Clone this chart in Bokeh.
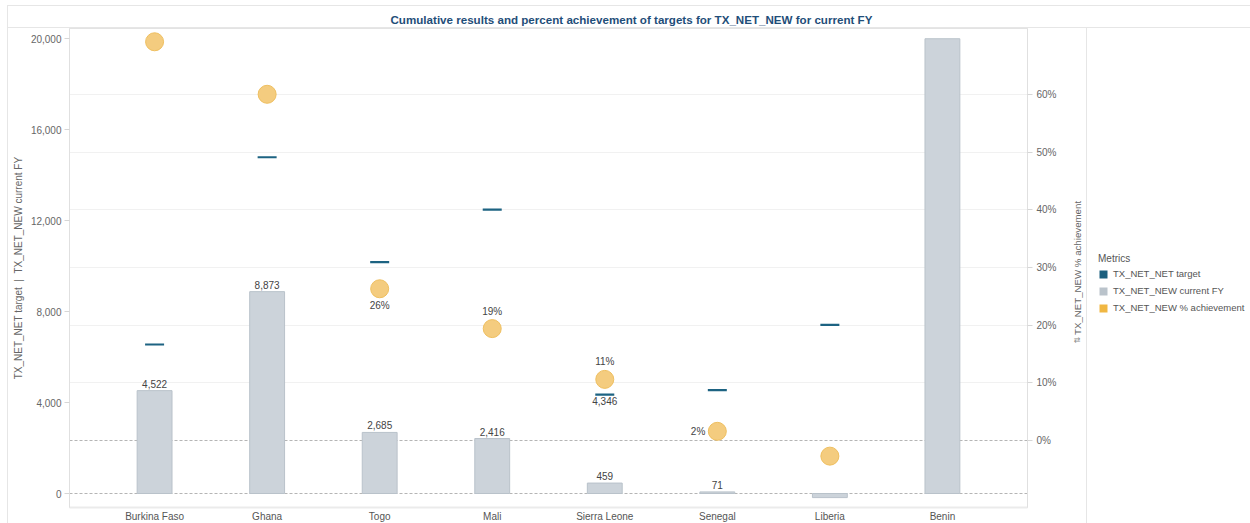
from bokeh.plotting import figure
from bokeh.layouts import row
from bokeh.models import (Range1d, FactorRange, LinearAxis, FixedTicker, NumeralTickFormatter,
                          PrintfTickFormatter, Grid, Legend, LegendItem, Label, ColumnDataSource)
from bokeh.core.properties import value
from bokeh.embed import file_html
from bokeh.resources import INLINE
from math import pi

# ---- data -------------------------------------------------------------
countries = ["Burkina Faso", "Ghana", "Togo", "Mali", "Sierra Leone", "Senegal", "Liberia", "Benin"]
current_fy = [4522, 8873, 2685, 2416, 459, 71, -180, 19990]
nan = float("nan")
targets = [6550, 14780, 10170, 12480, 4346, 4540, 7415, nan]
achievement_pct = [69.1, 60.0, 26.3, 19.4, 10.6, 1.6, -2.7, nan]

# which marks carry a value label
bar_labelled = ["Burkina Faso", "Ghana", "Togo", "Mali", "Sierra Leone", "Senegal"]
target_labelled = ["Sierra Leone"]
pct_label_above = ["Mali", "Sierra Leone"]
pct_label_below = ["Togo"]
pct_label_left = ["Senegal"]

left_ticks = [0, 4000, 8000, 12000, 16000, 20000]
pct_ticks = [0, 10, 20, 30, 40, 50, 60]

metrics = ["TX_NET_NET target", "TX_NET_NEW current FY", "TX_NET_NEW % achievement"]

FONT_NAME = "Liberation Sans"
FONT = value(FONT_NAME)
FS = "10px"
TXT = "#555555"
TICK_TXT = "#666666"
C_TARGET = "#1d6382"
C_BAR = "#ccd3da"
C_BAR_LINE = "#b9c2ca"
C_PCT = "#f3c978"
C_PCT_LINE = "#efbf5f"
SWATCHES = ["#1b5f7e", "#bac3cb", "#f0b743"]

src = ColumnDataSource(dict(country=countries, current=current_fy, target=targets,
                            pct=achievement_pct))


def subset(names, **cols):
    idx = [countries.index(n) for n in names]
    return ColumnDataSource({k: [v[i] for i in idx] for k, v in cols.items()})


# ---- main chart --------------------------------------------------------
p = figure(frame_width=958, frame_height=479, output_backend="svg", toolbar_location=None,
           x_range=FactorRange(factors=countries, range_padding=0.064),
           y_range=Range1d(-615, 20440),
           min_border_left=69, min_border_right=33, min_border_top=28, min_border_bottom=16)
p.extra_y_ranges = {"pct": Range1d(-11.6, 71.4)}

p.border_fill_color = None
p.background_fill_color = "white"
p.outline_line_color = "#e3e3e3"
p.xgrid.visible = False
p.ygrid.visible = False

# title
p.title.text = "Cumulative results and percent achievement of targets for TX_NET_NEW for current FY"
p.title.align = "left"
p.title.offset = 321
p.title.standoff = 6
p.title.text_font = FONT_NAME
p.title.text_font_size = "11.6px"
p.title.text_font_style = "bold"
p.title.text_color = "#1f4e79"

# left axis
ax = p.yaxis[0]
ax.ticker = FixedTicker(ticks=left_ticks)
ax.formatter = NumeralTickFormatter(format="0,0")
ax.axis_label = "TX_NET_NET target\u00a0\u00a0|\u00a0\u00a0TX_NET_NEW current FY"
ax.axis_label_text_font = FONT_NAME
ax.axis_label_text_font_size = FS
ax.axis_label_text_font_style = "normal"
ax.axis_label_text_color = TICK_TXT
ax.axis_label_standoff = 4
ax.major_label_text_font = FONT_NAME
ax.major_label_text_font_size = FS
ax.major_label_text_color = TICK_TXT
ax.major_label_standoff = 3
ax.axis_line_color = "#e0e0e0"
ax.major_tick_line_color = "#d6d6d6"
ax.major_tick_out = 5
ax.major_tick_in = 0
ax.minor_tick_line_color = None

# right axis (percent)
ay = LinearAxis(y_range_name="pct", ticker=FixedTicker(ticks=pct_ticks),
                formatter=PrintfTickFormatter(format="%d%%"))
ay.major_label_text_font = FONT_NAME
ay.major_label_text_font_size = FS
ay.major_label_text_color = TICK_TXT
ay.major_label_standoff = 4
ay.axis_line_color = "#e0e0e0"
ay.major_tick_line_color = "#d6d6d6"
ay.major_tick_out = 5
ay.major_tick_in = 0
ay.minor_tick_line_color = None
p.add_layout(ay, "right")

# x axis
xa = p.xaxis[0]
xa.major_label_text_font = FONT_NAME
xa.major_label_text_font_size = FS
xa.major_label_text_color = TXT
xa.major_label_standoff = 3
xa.major_tick_line_color = None
xa.major_tick_out = 0
xa.major_tick_in = 0
xa.axis_line_color = "#ebebeb"
xa.axis_line_width = 2

# grid lines
p.add_layout(Grid(dimension=1, y_range_name="pct", ticker=FixedTicker(ticks=pct_ticks[1:]),
                  grid_line_color="#f1f1f1"))
p.add_layout(Grid(dimension=1, y_range_name="pct", ticker=FixedTicker(ticks=[0]),
                  grid_line_color="#b5b5b5", grid_line_dash="3 2"))
p.add_layout(Grid(dimension=1, ticker=FixedTicker(ticks=[0]),
                  grid_line_color="#b5b5b5", grid_line_dash="3 2"))

# bars: current FY results
p.vbar(x="country", top="current", bottom=0, width=0.31, source=src,
       fill_color=C_BAR, line_color=C_BAR_LINE, line_width=1)

# target markers
p.scatter(x="country", y="target", source=src, marker="dash", size=19,
          line_color=C_TARGET, line_width=2.2)

# % achievement
p.scatter(x="country", y="pct", source=src, y_range_name="pct", marker="circle", size=18,
          fill_color=C_PCT, fill_alpha=0.95, line_color=C_PCT_LINE, line_width=1)

# value labels
txt_kw = dict(text_font=FONT, text_font_size=FS, text_color="#444444")

bl = subset(bar_labelled, country=countries, current=current_fy)
bl.data["label"] = [f"{v:,}" for v in bl.data["current"]]
p.text(x="country", y="current", text="label", source=bl, text_align="center",
       text_baseline="bottom", y_offset=-3, **txt_kw)

tl = subset(target_labelled, country=countries, target=targets)
tl.data["label"] = [f"{v:,}" for v in tl.data["target"]]
p.text(x="country", y="target", text="label", source=tl, text_align="center",
       text_baseline="top", y_offset=2, **txt_kw)

for names, kw in [(pct_label_above, dict(text_align="center", text_baseline="bottom", y_offset=-12)),
                  (pct_label_below, dict(text_align="center", text_baseline="top", y_offset=11)),
                  (pct_label_left, dict(text_align="right", text_baseline="middle", x_offset=-12))]:
    s = subset(names, country=countries, pct=achievement_pct)
    s.data["label"] = [f"{round(v):d}%" for v in s.data["pct"]]
    p.text(x="country", y="pct", text="label", source=s, y_range_name="pct", **kw, **txt_kw)

# ---- side panel: right axis title and legend ---------------------------
side = figure(width=190, height=523, output_backend="svg", toolbar_location=None,
              x_range=Range1d(0, 190), y_range=Range1d(523, 0),
              min_border=0, x_axis_location=None, y_axis_location=None)
side.border_fill_color = None
side.background_fill_color = None
side.outline_line_color = None
side.xgrid.visible = False
side.ygrid.visible = False

side.add_layout(Label(x=16.5, y=262, angle=pi / 2, text="TX_NET_NEW % achievement",
                      text_align="center", text_baseline="middle",
                      text_font=FONT_NAME, text_font_size="9.7px", text_color=TICK_TXT))
side.add_layout(Label(x=16.5, y=341, angle=pi / 2, text="⇅",
                      text_align="center", text_baseline="middle",
                      text_font="DejaVu Sans", text_font_size="8px", text_color="#8a8a8a"))

# colour swatches for the legend (no visible marks of their own)
swatches = [side.quad(left=[nan], right=[nan], top=[nan], bottom=[nan],
                      fill_color=c, line_color=None) for c in SWATCHES]
legend = Legend(items=[LegendItem(label=m, renderers=[r]) for m, r in zip(metrics, swatches)],
                title="Metrics", location=(38, 193), padding=0, margin=0, spacing=6,
                glyph_width=10, glyph_height=10, label_height=11, label_standoff=5,
                title_standoff=4, border_line_color=None, background_fill_alpha=0)
legend.title_text_font = FONT_NAME
legend.title_text_font_size = FS
legend.title_text_font_style = "normal"
legend.title_text_color = TXT
legend.label_text_font = FONT_NAME
legend.label_text_font_size = "9.5px"
legend.label_text_color = TXT
side.add_layout(legend)

layout = row(p, side, spacing=0)
# panel frame lines of the dashboard
layout.styles = {
    "background-color": "white",
    "background-image": ", ".join(["linear-gradient(#e6e6e6, #e6e6e6)"] * 4),
    "background-position": "7px 5px, 7px 5px, 7px 27px, 1086px 27px",
    "background-size": "1243px 1px, 1px 518px, 1243px 1px, 1px 496px",
    "background-repeat": "no-repeat",
}

open("out.html", "w").write(file_html(layout, INLINE))
